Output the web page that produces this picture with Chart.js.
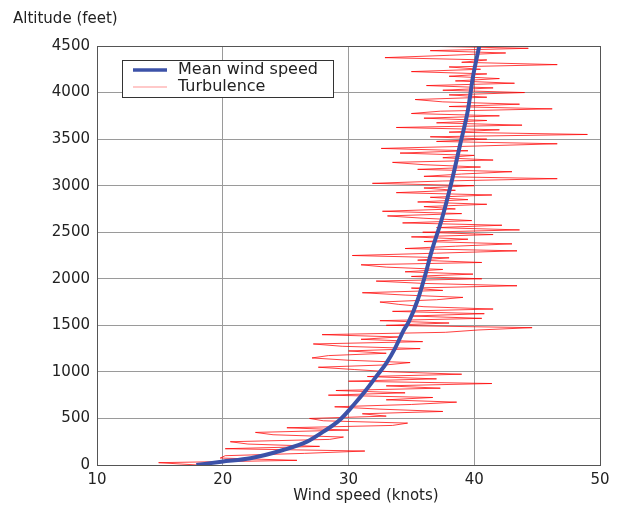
<!DOCTYPE html>
<html>
<head>
<meta charset="utf-8">
<script src="https://cdn.jsdelivr.net/npm/chart.js@4.4.1/dist/chart.umd.min.js"></script>
<style>
  html, body { margin: 0; padding: 0; background: #fff; }
  #wrap { width: 619px; height: 506px; position: relative; }
</style>
</head>
<body>
<div id="wrap"><canvas id="chart" width="619" height="506"></canvas></div>
<script>
// mean wind profile
const meanAlt = [0, 36, 72, 161, 251, 358, 483, 644, 805, 949, 1092, 1253, 1450, 1540, 1772, 2040, 2291, 2632, 3043, 3455, 3813, 4171, 4500];
const meanSpeed = [17.9, 19.9, 22.2, 24.8, 26.7, 28.0, 29.3, 30.4, 31.4, 32.2, 33.0, 33.7, 34.4, 34.8, 35.5, 36.1, 36.6, 37.4, 38.2, 38.9, 39.5, 39.9, 40.4];

// turbulent wind (every 25 ft)
const turbAlt = [
  0, 25, 50, 75, 100, 125, 150, 175,
  200, 225, 250, 275, 300, 325, 350, 375,
  400, 425, 450, 475, 500, 525, 550, 575,
  600, 625, 650, 675, 700, 725, 750, 775,
  800, 825, 850, 875, 900, 925, 950, 975,
  1000, 1025, 1050, 1075, 1100, 1125, 1150, 1175,
  1200, 1225, 1250, 1275, 1300, 1325, 1350, 1375,
  1400, 1425, 1450, 1475, 1500, 1525, 1550, 1575,
  1600, 1625, 1650, 1675, 1700, 1725, 1750, 1775,
  1800, 1825, 1850, 1875, 1900, 1925, 1950, 1975,
  2000, 2025, 2050, 2075, 2100, 2125, 2150, 2175,
  2200, 2225, 2250, 2275, 2300, 2325, 2350, 2375,
  2400, 2425, 2450, 2475, 2500, 2525, 2550, 2575,
  2600, 2625, 2650, 2675, 2700, 2725, 2750, 2775,
  2800, 2825, 2850, 2875, 2900, 2925, 2950, 2975,
  3000, 3025, 3050, 3075, 3100, 3125, 3150, 3175,
  3200, 3225, 3250, 3275, 3300, 3325, 3350, 3375,
  3400, 3425, 3450, 3475, 3500, 3525, 3550, 3575,
  3600, 3625, 3650, 3675, 3700, 3725, 3750, 3775,
  3800, 3825, 3850, 3875, 3900, 3925, 3950, 3975,
  4000, 4025, 4050, 4075, 4100, 4125, 4150, 4175,
  4200, 4225, 4250, 4275, 4300, 4325, 4350, 4375,
  4400, 4425, 4450, 4475, 4500
];
const turbSpeed = [
  18.0, 14.9, 25.9, 19.8, 20.2, 26.5, 31.3, 20.2,
  27.7, 22.0, 20.6, 28.5, 29.6, 24.0, 22.6, 30.0,
  25.1, 33.5, 34.7, 28.0, 26.9, 33.0, 31.1, 37.5,
  32.5, 28.9, 35.0, 38.6, 33.0, 36.7, 28.4, 34.5,
  29.0, 37.3, 33.0, 41.4, 30.0, 37.0, 31.5, 39.0,
  33.5, 30.5, 27.6, 33.0, 34.9, 30.0, 27.1, 28.4,
  33.0, 30.0, 35.7, 29.5, 27.2, 35.9, 31.0, 34.0,
  27.9, 37.7, 40.3, 44.6, 33.0, 38.0, 32.5, 40.6,
  35.0, 40.8, 33.5, 41.5, 36.0, 34.0, 32.5, 37.0,
  39.1, 34.5, 31.1, 37.5, 35.0, 43.4, 36.0, 32.2,
  40.6, 35.0, 39.9, 34.5, 37.5, 33.0, 31.0, 40.6,
  35.5, 38.0, 30.3, 37.0, 43.4, 34.5, 38.5, 43.0,
  36.0, 39.5, 35.0, 41.5, 35.9, 43.6, 37.0, 42.2,
  34.3, 39.8, 36.0, 33.1, 39.0, 32.7, 38.5, 36.0,
  41.0, 35.5, 39.5, 36.5, 41.4, 33.8, 38.5, 36.0,
  40.0, 31.9, 37.5, 46.6, 36.0, 39.0, 43.0, 35.5,
  40.5, 36.0, 33.5, 41.5, 37.5, 40.0, 34.1, 39.5,
  32.6, 40.0, 46.6, 37.0, 41.0, 36.5, 49.0, 38.0,
  42.0, 33.8, 43.8, 37.0, 41.0, 36.0, 42.0, 35.0,
  37.3, 46.2, 38.0, 43.6, 37.5, 35.3, 41.0, 38.0,
  44.0, 37.5, 41.5, 36.2, 43.2, 38.5, 42.0, 38.0,
  41.0, 35.0, 40.5, 38.0, 46.6, 39.0, 41.0, 32.9,
  38.0, 42.5, 36.5, 44.3, 35.4
];

const xTicks = [10, 20, 30, 40, 50];
const yTicks = [0, 500, 1000, 1500, 2000, 2500, 3000, 3500, 4000, 4500];

const FONT = '"DejaVu Sans", sans-serif';
const textColor = '#222';

// frame, legend and axis titles
const extras = {
  id: 'extras',
  afterDraw(chart) {
    const ctx = chart.ctx;
    const a = chart.chartArea;
    ctx.save();
    ctx.strokeStyle = '#555';
    ctx.lineWidth = 1;
    ctx.strokeRect(Math.round(a.left) + 0.5, Math.round(a.top) + 0.5,
      Math.round(a.right - a.left), Math.round(a.bottom - a.top));

    // legend
    ctx.fillStyle = '#fff';
    ctx.fillRect(122, 60, 211, 37);
    ctx.strokeStyle = '#333';
    ctx.strokeRect(122.5, 60.5, 211, 37);
    ctx.font = '16px ' + FONT;
    ctx.textBaseline = 'middle';
    chart.data.datasets.forEach((ds, i) => {
      const y = 70 + i * 17;
      ctx.strokeStyle = ds.legendColor;
      ctx.lineWidth = ds.legendWidth;
      ctx.beginPath();
      ctx.moveTo(133, y);
      ctx.lineTo(167, y);
      ctx.stroke();
      ctx.fillStyle = textColor;
      ctx.fillText(ds.label, 178, y);
    });

    // axis titles
    ctx.fillStyle = textColor;
    ctx.font = '15px ' + FONT;
    ctx.textAlign = 'left';
    ctx.textBaseline = 'middle';
    ctx.fillText('Altitude (feet)', 13, 19);
    ctx.textAlign = 'center';
    ctx.fillText('Wind speed (knots)', 366, 496);
    ctx.restore();
  }
};

new Chart(document.getElementById('chart'), {
  type: 'scatter',
  data: {
    datasets: [
      {
        label: 'Mean wind speed',
        data: meanAlt.map((h, i) => ({ x: meanSpeed[i], y: h })),
        showLine: true,
        borderColor: '#3c52a8',
        borderWidth: 4,
        pointRadius: 0,
        cubicInterpolationMode: 'monotone',
        order: 0,
        legendColor: '#3c52a8',
        legendWidth: 3.5
      },
      {
        label: 'Turbulence',
        data: turbAlt.map((h, i) => ({ x: turbSpeed[i], y: h })),
        showLine: true,
        borderColor: 'rgba(255, 0, 0, 0.75)',
        borderWidth: 1,
        pointRadius: 0,
        tension: 0,
        order: 1,
        legendColor: 'rgba(255, 120, 120, 0.8)',
        legendWidth: 1
      }
    ]
  },
  options: {
    responsive: false,
    animation: false,
    layout: { padding: { top: 46, right: 19, bottom: 0, left: 0 } },
    plugins: {
      legend: { display: false },
      tooltip: { enabled: false }
    },
    scales: {
      x: {
        type: 'linear',
        min: xTicks[0],
        max: xTicks[xTicks.length - 1],
        afterBuildTicks: s => { s.ticks = xTicks.map(v => ({ value: v })); },
        afterFit: s => { s.height = 41; },
        grid: { color: '#9a9a9a', drawTicks: false },
        border: { display: false },
        ticks: { color: textColor, padding: 6, font: { family: FONT, size: 15 }, callback: v => String(v) }
      },
      y: {
        type: 'linear',
        min: yTicks[0],
        max: yTicks[yTicks.length - 1],
        afterBuildTicks: s => { s.ticks = yTicks.map(v => ({ value: v })); },
        afterFit: s => { s.width = 97; },
        grid: { color: '#9a9a9a', drawTicks: false },
        border: { display: false },
        ticks: { color: textColor, padding: 7, font: { family: FONT, size: 15 }, callback: v => String(v) }
      }
    }
  },
  plugins: [extras]
});
</script>
</body>
</html>
